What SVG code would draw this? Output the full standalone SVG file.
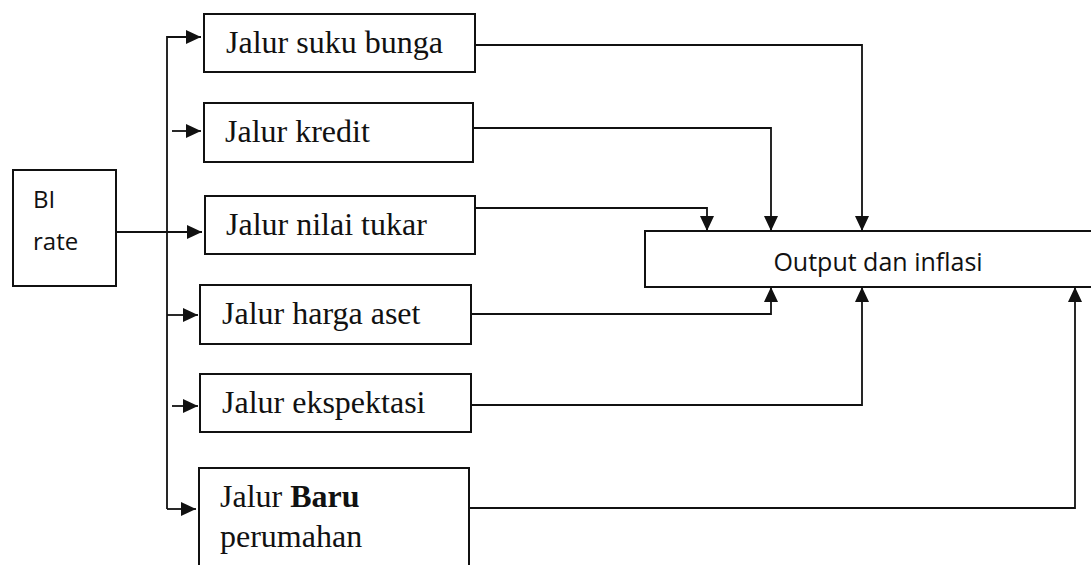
<svg xmlns="http://www.w3.org/2000/svg" width="1091" height="565" viewBox="0 0 1091 565">
<style>
.box{fill:#fff;stroke:#111;stroke-width:2}
.serif{font-family:"Liberation Serif","Times New Roman",serif;font-size:32px;fill:#111}
.sans{font-family:"Open Sans","Liberation Sans",sans-serif;fill:#111}
.conn path{fill:none;stroke:#111;stroke-width:1.8}
</style>
<defs>
<marker id="ah" markerUnits="userSpaceOnUse" markerWidth="16" markerHeight="15" refX="15" refY="7" orient="auto">
<path d="M0,0 L15,7 L0,14 Z" fill="#111"/>
</marker>
</defs>
<rect width="1091" height="565" fill="#fff"/>
<g id="bi-rate">
<rect class="box" x="13" y="170" width="103" height="116"/>
<text class="sans" font-size="24" x="33" y="208">BI</text>
<text class="sans" font-size="24" x="33" y="250">rate</text>
</g>
<g id="suku-bunga">
<rect class="box" x="204" y="14" width="271" height="58"/>
<text class="serif" x="226" y="53">Jalur suku bunga</text>
</g>
<g id="kredit">
<rect class="box" x="204" y="103" width="269" height="59"/>
<text class="serif" x="225" y="142">Jalur kredit</text>
</g>
<g id="nilai-tukar">
<rect class="box" x="205" y="196" width="270" height="58"/>
<text class="serif" x="226" y="235">Jalur nilai tukar</text>
</g>
<g id="harga-aset">
<rect class="box" x="200" y="285" width="271" height="59"/>
<text class="serif" x="222" y="324">Jalur harga aset</text>
</g>
<g id="ekspektasi">
<rect class="box" x="200" y="374" width="271" height="58"/>
<text class="serif" x="222" y="413">Jalur ekspektasi</text>
</g>
<g id="baru-perumahan">
<rect class="box" x="199" y="468" width="270" height="105"/>
<text class="serif" x="220" y="507">Jalur <tspan font-weight="bold">Baru</tspan></text>
<text class="serif" x="220" y="547">perumahan</text>
</g>
<g id="output-inflasi">
<rect class="box" x="645" y="231" width="460" height="56"/>
<text class="sans" font-size="25" x="878" y="271" text-anchor="middle">Output dan inflasi</text>
</g>
<g class="conn" id="connectors">
<path d="M167,509 V37 H201" marker-end="url(#ah)"/>
<path d="M172,131 H201" marker-end="url(#ah)"/>
<path d="M116,232 H202" marker-end="url(#ah)"/>
<path d="M167,315 H198" marker-end="url(#ah)"/>
<path d="M172,406 H198" marker-end="url(#ah)"/>
<path d="M167,509 H196" marker-end="url(#ah)"/>
<path d="M475,45 H862 V231" marker-end="url(#ah)"/>
<path d="M473,128 H771 V231" marker-end="url(#ah)"/>
<path d="M475,208 H707 V231" marker-end="url(#ah)"/>
<path d="M471,314 H771 V287" marker-end="url(#ah)"/>
<path d="M471,405 H862 V287" marker-end="url(#ah)"/>
<path d="M469,508 H1075 V287" marker-end="url(#ah)"/>
</g>
</svg>
